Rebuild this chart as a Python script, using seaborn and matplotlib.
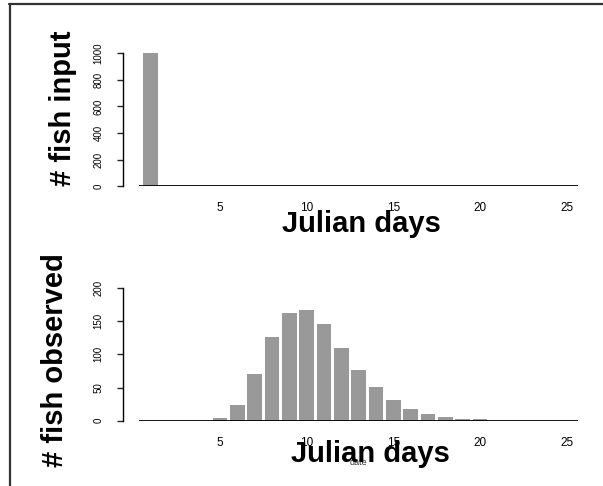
import matplotlib
matplotlib.use("Agg")
import matplotlib.pyplot as plt
from matplotlib.lines import Line2D
import seaborn as sns
import pandas as pd

# Fish released (input) and fish counted (observed) per Julian day
days = list(range(1, 26))
fish_input = [1000] + [0] * 24
fish_observed = [0, 0, 0, 0, 4, 24, 70, 126, 163, 167, 145, 110, 76,
                 51, 31, 18, 10, 6, 2, 2, 0, 0, 0, 0, 0]
input_ticks = [0, 200, 400, 600, 800, 1000]
observed_ticks = [0, 50, 100, 150, 200]
day_ticks = [5, 10, 15, 20, 25]

sns.set_theme(style="white")
plt.rcParams["font.family"] = ["Liberation Sans", "DejaVu Sans"]

W, H = 603, 486
fig = plt.figure(figsize=(W / 100, H / 100), dpi=100)
fig.patch.set_facecolor("white")

BAR = "#999999"


def px_axes(left, top, right, bottom):
    return fig.add_axes([left / W, 1 - bottom / H, (right - left) / W, (bottom - top) / H])


def style_panel(ax, values, yticks):
    df = pd.DataFrame({"day": days, "n": values})
    sns.barplot(data=df, x="day", y="n", native_scale=True, color=BAR,
                saturation=1, width=0.86, linewidth=0, ax=ax)
    ax.hlines(0, 0.35, 25.65, color="black", lw=1.3, zorder=3)
    ax.set_xlim(-0.6, 26.35)
    ax.set_ylim(0, yticks[-1])
    for s in ("top", "right", "bottom"):
        ax.spines[s].set_visible(False)
    ax.spines["left"].set_bounds(yticks[0], yticks[-1])
    ax.spines["left"].set_linewidth(1.0)
    ax.spines["left"].set_color("black")
    ax.set_yticks(yticks)
    ax.set_yticklabels([str(t) for t in yticks], rotation=90, va="center",
                       fontsize=7, color="black")
    ax.tick_params(axis="y", left=True, length=4, width=1.0, pad=10, direction="out")
    ax.set_xticks(day_ticks)
    ax.set_xticklabels([str(t) for t in day_ticks], fontsize=8.5, color="black")
    ax.tick_params(axis="x", bottom=False, length=0, pad=11.5)
    ax.set_xlabel("")
    ax.set_ylabel("")
    ax.patch.set_alpha(0)


ax1 = px_axes(123, 53, 590, 186.5)
style_panel(ax1, fish_input, input_ticks)

ax2 = px_axes(123, 288, 590, 420.7)
style_panel(ax2, fish_observed, observed_ticks)

big = dict(fontsize=21, fontweight="bold", color="black", ha="center", va="center")
fig.text(63 / W, 1 - 108 / H, "# fish input", rotation=90, **big)
fig.text(55 / W, 1 - 360 / H, "# fish observed", rotation=90, **big)
fig.text(361.5 / W, 1 - 224 / H, "Julian days", **big)
fig.text(358 / W, 1 - 462 / H, "date", fontsize=6.5, color="#333333",
         ha="center", va="center", zorder=1)
fig.text(370 / W, 1 - 454 / H, "Julian days", zorder=2, **big)

# frame lines along the top and left edge
fig.add_artist(Line2D([9 / W, 1.0], [1 - 4 / H, 1 - 4 / H], color="#333333", lw=1.6))
fig.add_artist(Line2D([10 / W, 10 / W], [0.0, 1 - 4 / H], color="#333333", lw=1.6))

fig.savefig("out.png", dpi=100, facecolor="white")
